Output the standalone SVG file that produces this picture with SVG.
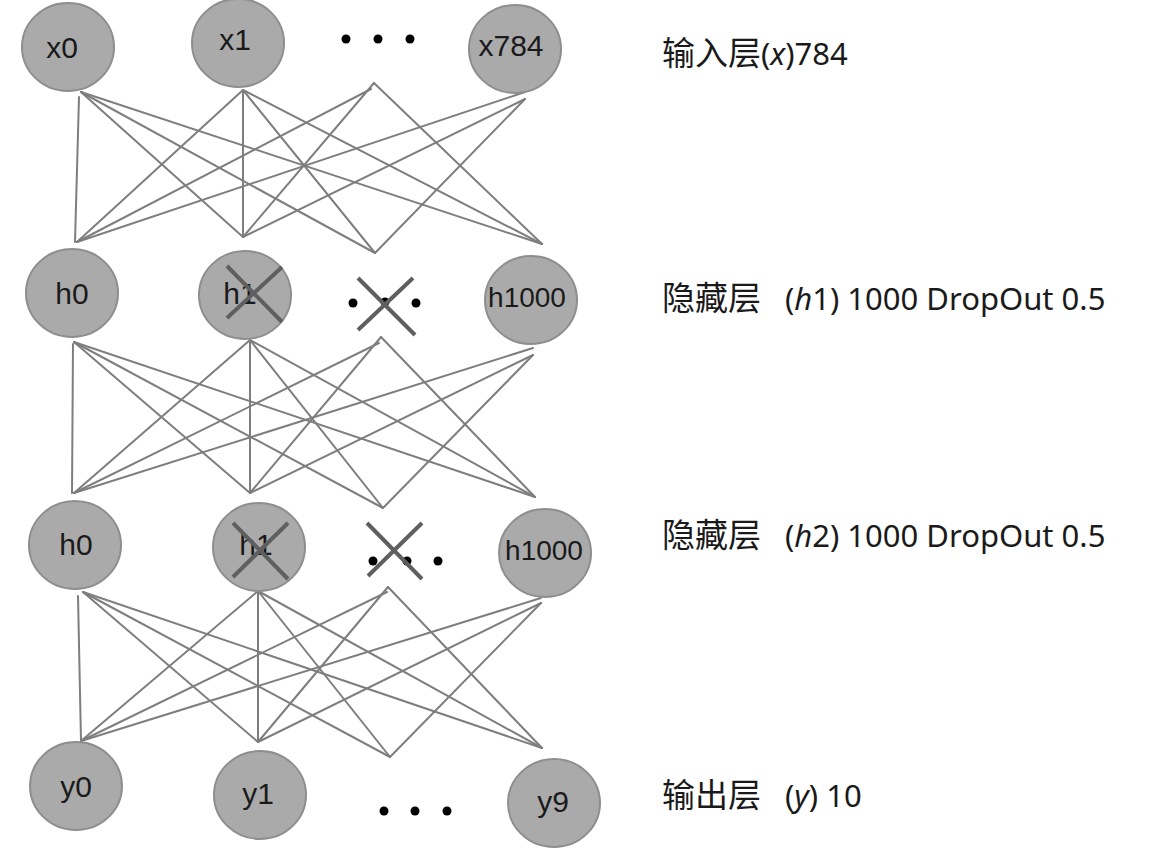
<svg xmlns="http://www.w3.org/2000/svg" width="1162" height="861" viewBox="0 0 1162 861">
<style>
  .bg{fill:#ffffff}
  .node ellipse{fill:#aaaaaa;stroke:#8e8e8e;stroke-width:2}
  .node text{font-family:"Liberation Sans",Arial,sans-serif;font-size:30px;fill:#1a1a1a;text-anchor:middle}
  .node text.wide{font-size:28px}
  .edges line{stroke:#7e7e7e;stroke-width:2;stroke-linecap:round}
  .cross line{stroke:#5f5f5f;stroke-width:4;stroke-linecap:butt}
  .dot{fill:#000000}
  .label{font-family:"Noto Sans","Noto Sans CJK SC",sans-serif;fill:#1a1a1a}
  .cjk{font-family:"Noto Sans CJK SC","Noto Sans",sans-serif;font-size:33px}
  .lat{font-size:31px}
  .it{font-style:italic}
</style>
<rect class="bg" x="0" y="0" width="1162" height="861"/>

<g id="connectors" class="edges">
  <!-- input -> hidden1 -->
  <line x1="79" y1="97" x2="75" y2="242"/>
  <line x1="81" y1="92" x2="243" y2="237"/>
  <line x1="81" y1="92" x2="375" y2="253"/>
  <line x1="81" y1="92" x2="542" y2="244"/>
  <line x1="243" y1="90" x2="77" y2="242"/>
  <line x1="243" y1="90" x2="243" y2="237"/>
  <line x1="243" y1="90" x2="375" y2="253"/>
  <line x1="243" y1="90" x2="542" y2="244"/>
  <line x1="371" y1="89" x2="77" y2="242"/>
  <line x1="374" y1="83" x2="243" y2="237"/>
  <line x1="374" y1="83" x2="542" y2="244"/>
  <line x1="525" y1="92" x2="77" y2="242"/>
  <line x1="525" y1="99" x2="243" y2="237"/>
  <line x1="525" y1="99" x2="375" y2="253"/>
  <!-- hidden1 -> hidden2 -->
  <line x1="73" y1="344" x2="72" y2="493"/>
  <line x1="74" y1="342" x2="250" y2="493"/>
  <line x1="74" y1="342" x2="383" y2="508"/>
  <line x1="74" y1="342" x2="535" y2="497"/>
  <line x1="250" y1="340" x2="74" y2="493"/>
  <line x1="250" y1="340" x2="250" y2="493"/>
  <line x1="250" y1="340" x2="383" y2="508"/>
  <line x1="250" y1="340" x2="535" y2="497"/>
  <line x1="379" y1="343" x2="74" y2="493"/>
  <line x1="381" y1="337" x2="250" y2="493"/>
  <line x1="381" y1="337" x2="535" y2="497"/>
  <line x1="533" y1="348" x2="74" y2="493"/>
  <line x1="533" y1="355" x2="250" y2="493"/>
  <line x1="533" y1="355" x2="383" y2="508"/>
  <!-- hidden2 -> output -->
  <line x1="78" y1="596" x2="81" y2="741"/>
  <line x1="83" y1="592" x2="258" y2="742"/>
  <line x1="83" y1="592" x2="390" y2="757"/>
  <line x1="83" y1="592" x2="542" y2="748"/>
  <line x1="258" y1="591" x2="81" y2="741"/>
  <line x1="258" y1="591" x2="258" y2="742"/>
  <line x1="258" y1="591" x2="390" y2="757"/>
  <line x1="258" y1="591" x2="542" y2="748"/>
  <line x1="387" y1="592" x2="81" y2="741"/>
  <line x1="388" y1="587" x2="258" y2="742"/>
  <line x1="388" y1="587" x2="542" y2="748"/>
  <line x1="541" y1="598" x2="81" y2="741"/>
  <line x1="541" y1="603" x2="258" y2="742"/>
  <line x1="541" y1="603" x2="390" y2="757"/>
</g>

<!-- input layer -->
<g id="node-x0" class="node"><ellipse cx="68" cy="47" rx="46" ry="44"/><text x="62" y="58">x0</text></g>
<g id="node-x1" class="node"><ellipse cx="238" cy="43" rx="46" ry="44"/><text x="235" y="50">x1</text></g>
<g id="dots-x"><circle class="dot" cx="346" cy="39" r="4.5"/><circle class="dot" cx="378" cy="39" r="4.5"/><circle class="dot" cx="410" cy="39" r="4.5"/></g>
<g id="node-x784" class="node"><ellipse cx="515" cy="49" rx="46" ry="44"/><text x="511" y="56">x784</text></g>

<!-- hidden layer 1 -->
<g id="node-h1-0" class="node"><ellipse cx="72" cy="293" rx="46" ry="44"/><text x="72" y="304">h0</text></g>
<g id="node-h1-1" class="node"><ellipse cx="245" cy="295" rx="46" ry="44"/><text x="240" y="304">h1</text>
  <g class="cross"><line x1="227" y1="266" x2="282" y2="322"/><line x1="227" y1="318" x2="282" y2="267"/></g></g>
<g id="dots-h1"><circle class="dot" cx="353" cy="303" r="4.5"/><circle class="dot" cx="385" cy="302" r="4.5"/><circle class="dot" cx="416" cy="303" r="4.5"/>
  <g class="cross"><line x1="358" y1="278" x2="415" y2="335"/><line x1="358" y1="330" x2="413" y2="278"/></g></g>
<g id="node-h1-1000" class="node"><ellipse cx="531" cy="300" rx="46" ry="44"/><text class="wide" x="527" y="307">h1000</text></g>

<!-- hidden layer 2 -->
<g id="node-h2-0" class="node"><ellipse cx="75" cy="545" rx="46" ry="44"/><text x="76" y="555">h0</text></g>
<g id="node-h2-1" class="node"><ellipse cx="259" cy="547" rx="46" ry="44"/><text x="256" y="555">h1</text>
  <g class="cross"><line x1="233" y1="523" x2="288" y2="579"/><line x1="233" y1="577" x2="288" y2="523"/></g></g>
<g id="dots-h2"><circle class="dot" cx="373" cy="561" r="4.5"/><circle class="dot" cx="407" cy="561" r="4.5"/><circle class="dot" cx="438" cy="561" r="4.5"/>
  <g class="cross"><line x1="367" y1="523" x2="422" y2="579"/><line x1="368" y1="576" x2="422" y2="523"/></g></g>
<g id="node-h2-1000" class="node"><ellipse cx="545" cy="553" rx="46" ry="44"/><text class="wide" x="544" y="560">h1000</text></g>

<!-- output layer -->
<g id="node-y0" class="node"><ellipse cx="76" cy="786" rx="46" ry="44"/><text x="76" y="797">y0</text></g>
<g id="node-y1" class="node"><ellipse cx="260" cy="795" rx="46" ry="44"/><text x="258" y="804">y1</text></g>
<g id="dots-y"><circle class="dot" cx="384" cy="811" r="4.5"/><circle class="dot" cx="415" cy="811" r="4.5"/><circle class="dot" cx="447" cy="811" r="4.5"/></g>
<g id="node-y9" class="node"><ellipse cx="554" cy="803" rx="46" ry="44"/><text x="553" y="812">y9</text></g>

<!-- labels -->
<g id="labels">
  <text class="label" x="662" y="65"><tspan class="cjk">输入层</tspan><tspan class="lat">(<tspan class="it">x</tspan>)784</tspan></text>
  <text class="label" x="662" y="310"><tspan class="cjk">隐藏层</tspan><tspan class="lat" x="785">(<tspan class="it">h</tspan>1) 1000 DropOut 0.5</tspan></text>
  <text class="label" x="662" y="547"><tspan class="cjk">隐藏层</tspan><tspan class="lat" x="785">(<tspan class="it">h</tspan>2) 1000 DropOut 0.5</tspan></text>
  <text class="label" x="662" y="807"><tspan class="cjk">输出层</tspan><tspan class="lat" x="785">(<tspan class="it">y</tspan>) 10</tspan></text>
</g>
</svg>
